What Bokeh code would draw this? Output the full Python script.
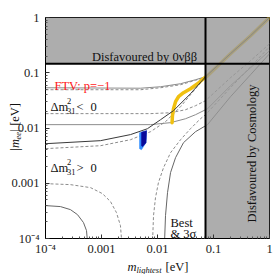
import math
from bokeh.plotting import figure
from bokeh.layouts import column
from bokeh.models import Range1d, FixedTicker, CustomJSTickFormatter, Label
from bokeh.embed import file_html
from bokeh.resources import INLINE

# ---------------- data (eV) ----------------
mee_limit = 0.146      # 0vbb bound
m_cosmo = 0.072        # cosmology bound

tick_values = [1e-4, 1e-3, 1e-2, 1e-1, 1.0]
tick_labels = ["10\u207b\u2074", "0.001", "0.01", "0.1", "1"]

io_up_solid_m = [1e-4, 5.0e-3, 0.0113, 0.0258, 0.0477, 0.072, 0.201, 0.458, 1.0]
io_up_solid_mee = [0.0535, 0.0525, 0.0558, 0.0633, 0.0747, 0.0847, 0.221, 0.467, 1.0]

io_up_dash_m = [1e-4, 5.0e-3, 0.0113, 0.0258, 0.0477, 0.072]
io_up_dash_mee = [0.0493, 0.0493, 0.0535, 0.0607, 0.0731, 0.0829]

io_lo_dash_m = [1e-4, 7.5e-3, 0.0171, 0.0316, 0.0477, 0.072, 0.201, 0.458, 1.0]
io_lo_dash_mee = [0.0182, 0.0182, 0.0189, 0.0214, 0.0253, 0.0312, 0.0812, 0.165, 0.334]

io_lo_solid_m = [1e-4, 7.5e-3, 0.0171, 0.0316, 0.0477, 0.0781, 0.201, 0.458, 1.0]
io_lo_solid_mee = [0.0115, 0.0115, 0.0125, 0.0147, 0.0174, 0.0223, 0.0582, 0.123, 0.250]

no_up_solid_m = [1e-4, 9.6e-4, 3.3e-3, 6.6e-3, 0.0113, 0.0193, 0.0388, 0.072, 0.201, 0.458, 1.0]
no_up_solid_mee = [0.0052, 0.0059, 0.0076, 0.0097, 0.0141, 0.0206, 0.0417, 0.0847, 0.221, 0.467, 1.0]

no_up_dash_m = [1e-4, 9.6e-4, 3.3e-3, 7.5e-3, 0.0139, 0.0258, 0.0477, 0.072]
no_up_dash_mee = [0.00423, 0.00478, 0.00614, 0.00857, 0.0130, 0.0243, 0.0514, 0.0812]

no_lo_dash_left_m = [1e-4, 2.79e-4, 6.37e-4, 1.04e-3, 1.45e-3, 1.85e-3, 2.18e-3, 2.4e-3]
no_lo_dash_left_mee = [0.000984, 0.000944, 0.000833, 0.000649, 0.000465, 0.000294, 0.000171, 5e-5]

no_lo_solid_left_m = [1e-4, 1.85e-4, 2.79e-4, 3.73e-4, 4.77e-4, 5.40e-4, 5.9e-4]
no_lo_solid_left_mee = [0.000394, 0.000378, 0.000333, 0.000270, 0.000194, 0.000139, 5e-5]

no_lo_dash_right_m = [8.0e-3, 8.49e-3, 9.21e-3, 0.0104, 0.0128, 0.0171, 0.0258, 0.0388, 0.0586, 0.072, 0.201, 0.458, 1.0]
no_lo_dash_right_mee = [5e-5, 0.000259, 0.000549, 0.00103, 0.00191, 0.00357, 0.00614, 0.00971, 0.0147, 0.0174, 0.0535, 0.128, 0.295]

no_lo_solid_right_m = [0.0131, 0.0139, 0.0151, 0.0171, 0.0210, 0.0291, 0.0477, 0.0781, 0.201, 0.458, 1.0]
no_lo_solid_right_mee = [5e-5, 0.000259, 0.000676, 0.00156, 0.00290, 0.00542, 0.00857, 0.0115, 0.0368, 0.092, 0.221]

ftv_m = [0.0182, 0.0185, 0.0193, 0.0210, 0.0237, 0.0291, 0.0388, 0.0518, 0.0663, 0.0781, 0.201, 0.458, 1.0]
ftv_mee = [0.0125, 0.0167, 0.0223, 0.0299, 0.0368, 0.0435, 0.0514, 0.0633, 0.0780, 0.0883, 0.221, 0.467, 1.0]

blue_outer_m = [4.77e-3, 6.37e-3, 6.24e-3, 5.18e-3, 4.77e-3]
blue_outer_mee = [0.00822, 0.00894, 0.00542, 0.00405, 0.00423]
blue_inner_m = [5.18e-3, 6.37e-3, 6.24e-3, 5.40e-3, 5.18e-3]
blue_inner_mee = [0.0084, 0.00894, 0.00542, 0.00459, 0.00478]

W, H = 273, 274

# ---------------- main figure ----------------
p = figure(width=W, height=H, x_axis_type="log", y_axis_type="log",
           x_range=Range1d(1e-4, 1.0), y_range=Range1d(1e-4, 1.0),
           output_backend="svg", toolbar_location=None, title=None,
           min_border_left=45, min_border_right=4, min_border_top=17, min_border_bottom=36)
p.grid.visible = False
p.outline_line_color = "black"
p.outline_line_width = 1
p.background_fill_color = "white"
p.border_fill_color = "white"

minor = [k * 10.0 ** e for e in range(-4, 0) for k in range(2, 10)]
fmt = CustomJSTickFormatter(args=dict(vals=tick_values, labs=tick_labels), code="""
for (let i = 0; i < vals.length; i++) {
  if (Math.abs(Math.log10(tick) - Math.log10(vals[i])) < 1e-6) return labs[i];
}
return "";
""")
for ax in (p.xaxis[0], p.yaxis[0]):
    ax.ticker = FixedTicker(ticks=tick_values, minor_ticks=minor)
    ax.formatter = fmt
    ax.major_tick_in = 4
    ax.major_tick_out = 0
    ax.minor_tick_in = 2
    ax.minor_tick_out = 0
    ax.major_tick_line_color = "#333333"
    ax.minor_tick_line_color = "#555555"
    ax.axis_line_color = "black"
    ax.major_label_text_font = "Liberation Serif"
    ax.major_label_text_font_size = "12.5px"
    ax.major_label_text_color = "#222222"
p.xaxis.major_label_standoff = 3
p.yaxis.major_label_standoff = 6

GRAY = "#8c8c8c"
DASH = "3 2"

p.line(io_up_solid_m, io_up_solid_mee, line_color=GRAY, line_width=1)
p.line(io_up_dash_m, io_up_dash_mee, line_color=GRAY, line_width=1, line_dash=DASH)
p.line(io_lo_solid_m, io_lo_solid_mee, line_color=GRAY, line_width=1)
p.line(io_lo_dash_m, io_lo_dash_mee, line_color=GRAY, line_width=1, line_dash=DASH)
p.line(no_up_dash_m, no_up_dash_mee, line_color=GRAY, line_width=1, line_dash=DASH)
p.line(no_lo_dash_left_m, no_lo_dash_left_mee, line_color=GRAY, line_width=1, line_dash=DASH)
p.line(no_lo_solid_left_m, no_lo_solid_left_mee, line_color="#666666", line_width=1)
p.line(no_lo_dash_right_m, no_lo_dash_right_mee, line_color=GRAY, line_width=1, line_dash=DASH)
p.line(no_lo_solid_right_m, no_lo_solid_right_mee, line_color="#666666", line_width=1)

p.patch(blue_outer_m, blue_outer_mee, fill_color="#2f8cff", line_color="#2f8cff", line_width=0.5)
p.patch(blue_inner_m, blue_inner_mee, fill_color="#0a0a9a", line_color="#0a0a9a", line_width=0.5)

p.line(ftv_m, ftv_mee, line_color="#f0c010", line_width=3.5, line_cap="round", line_join="round")
p.line(no_up_solid_m, no_up_solid_mee, line_color="#3a3a3a", line_width=1)

# disfavoured regions
p.quad(left=[1e-4], right=[1.0], bottom=[mee_limit], top=[1.0],
       fill_color="#999999", fill_alpha=0.8, line_color=None)
p.quad(left=[m_cosmo], right=[1.0], bottom=[1e-4], top=[mee_limit],
       fill_color="#999999", fill_alpha=0.8, line_color=None)
p.line([1e-4, 1.0], [mee_limit, mee_limit], line_color="black", line_width=2)
p.line([m_cosmo, m_cosmo], [1e-4, 1.0], line_color="black", line_width=2)

# ---------------- transparent text overlay (pixel coordinates) ----------------
t = figure(width=W, height=H, x_range=Range1d(0, W), y_range=Range1d(H, 0),
           output_backend="svg", toolbar_location=None, title=None,
           x_axis_location=None, y_axis_location=None,
           min_border=0, min_border_left=0, min_border_right=0,
           min_border_top=0, min_border_bottom=0)
t.grid.visible = False
t.outline_line_color = None
t.background_fill_alpha = 0
t.border_fill_alpha = 0
t.styles = {"position": "absolute", "left": "0px", "top": "0px", "pointer-events": "none"}
t.frame_align = False
p.frame_align = False

SERIF = "Liberation Serif"


def lab(px, py, text, size="12.5px", color="#111111", style="normal", align="left",
        baseline="alphabetic", angle=0.0):
    t.add_layout(Label(x=px, y=py, text=text, text_font=SERIF,
                       text_font_size=size, text_color=color, text_font_style=style,
                       text_align=align, text_baseline=baseline, angle=angle))


lab(144, 56, "Disfavoured by 0\u03bd\u03b2\u03b2", align="center")
lab(54, 85, "FTV: p=\u22121", color="#ff1a1a")
# Δm^2_31 < 0
lab(50, 106, "\u0394m")
lab(66.5, 100, "2", size="8.5px")
lab(66.5, 110, "31", size="8.5px")
lab(76, 106, "<")
lab(90, 106, "0")
# Δm^2_31 > 0
lab(50, 167, "\u0394m")
lab(66.5, 161, "2", size="8.5px")
lab(66.5, 171, "31", size="8.5px")
lab(76, 167, ">")
lab(90, 167, "0")
lab(170, 222, "Best")
lab(170, 233, "& 3\u03c3")
lab(251, 153, "Disfavoured by Cosmology", align="center", baseline="middle", angle=math.pi / 2)
# axis labels
lab(127, 266, "m", style="italic")
lab(136, 269, "lightest", size="8.5px", style="italic")
lab(165, 266, "[eV]")
lab(14, 151, "|m", style="italic", angle=math.pi / 2)
lab(17, 139, "ee", size="8.5px", style="italic", angle=math.pi / 2)
lab(14, 131, "| [eV]", angle=math.pi / 2)

layout = column(p, t)
open("out.html", "w").write(file_html(layout, INLINE))
